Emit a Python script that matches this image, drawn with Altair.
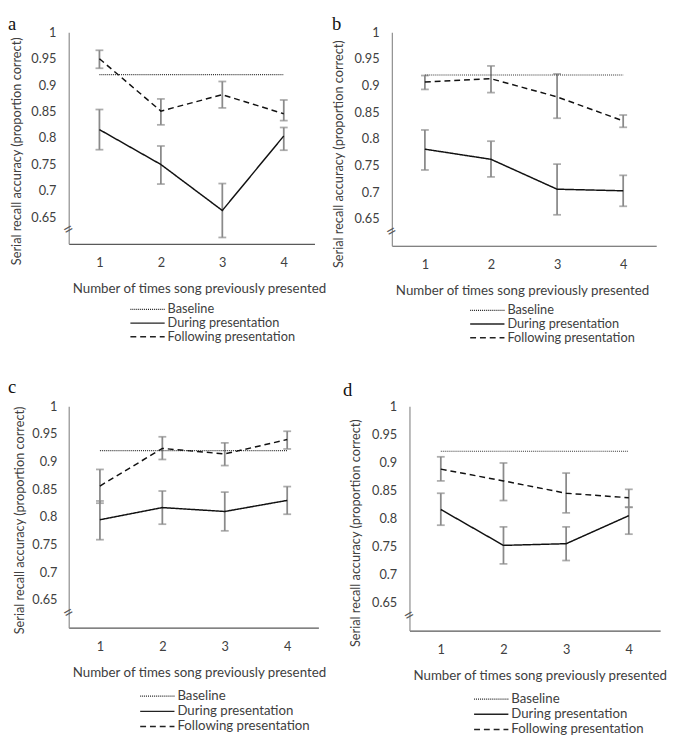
import altair as alt
import pandas as pd

times = [1, 2, 3, 4]
series_names = ["Baseline", "During presentation", "Following presentation"]

# Panel a
a_baseline = 0.92
a_during = [0.816, 0.750, 0.663, 0.804]
a_during_lo = [0.778, 0.713, 0.612, 0.777]
a_during_hi = [0.854, 0.785, 0.714, 0.820]
a_following = [0.950, 0.851, 0.882, 0.846]
a_following_lo = [0.932, 0.825, 0.857, 0.833]
a_following_hi = [0.966, 0.874, 0.907, 0.872]

# Panel b
b_baseline = 0.92
b_during = [0.781, 0.762, 0.706, 0.703]
b_during_lo = [0.742, 0.729, 0.658, 0.674]
b_during_hi = [0.817, 0.796, 0.753, 0.732]
b_following = [0.907, 0.913, 0.879, 0.834]
b_following_lo = [0.893, 0.887, 0.839, 0.822]
b_following_hi = [0.919, 0.937, 0.922, 0.845]

# Panel c
c_baseline = 0.92
c_during = [0.795, 0.817, 0.810, 0.830]
c_during_lo = [0.759, 0.787, 0.775, 0.805]
c_during_hi = [0.829, 0.847, 0.845, 0.855]
c_following = [0.856, 0.924, 0.914, 0.940]
c_following_lo = [0.825, 0.904, 0.893, 0.923]
c_following_hi = [0.886, 0.945, 0.934, 0.955]

# Panel d
d_baseline = 0.92
d_during = [0.816, 0.752, 0.755, 0.805]
d_during_lo = [0.788, 0.719, 0.725, 0.772]
d_during_hi = [0.845, 0.785, 0.785, 0.820]
d_following = [0.888, 0.867, 0.845, 0.837]
d_following_lo = [0.867, 0.832, 0.810, 0.820]
d_following_hi = [0.910, 0.899, 0.881, 0.852]

y_ticks = [0.65, 0.7, 0.75, 0.8, 0.85, 0.9, 0.95, 1.0]
break_at = 0.626

FONT = "Lato"
TXT = "#404040"
DASHES = [[1, 1], [1, 0], [6, 4]]


def panel(letter, baseline, during, during_lo, during_hi, following,
          following_lo, following_hi, w, h, legend_x, legend_y0, legend_dy,
          legend_fs, title_y, title_pad, label_pad, letter_x, letter_y):
    base_df = pd.DataFrame({
        "times": [times[0], times[-1]],
        "series": ["Baseline", "Baseline"],
        "value": [baseline, baseline],
    })
    line_df = pd.DataFrame({
        "times": times + times,
        "series": ["During presentation"] * 4 + ["Following presentation"] * 4,
        "value": during + following,
        "lo": during_lo + following_lo,
        "hi": during_hi + following_hi,
    })

    x_enc = alt.X(
        "times:O",
        scale=alt.Scale(type="point", padding=0.5),
        axis=alt.Axis(
            title="Number of times song previously presented",
            labelAngle=0, ticks=False, tickSize=0, labelPadding=13,
            grid=False, domainColor="#595959", domainWidth=1.2,
            labelFont=FONT, labelFontSize=13, labelColor=TXT,
            titleFont=FONT, titleFontSize=13.6, titleFontWeight="normal",
            titleColor=TXT, titlePadding=13, titleX=133,
        ),
    )
    y_scale = alt.Scale(domain=[0.6, 1.0], nice=False, zero=False)
    y_axis = alt.Axis(
        title="Serial recall accuracy (proportion correct)",
        values=y_ticks, format="~g", ticks=False, tickSize=0, grid=False,
        labelOverlap=False, labelFlush=False, labelSeparation=0,
        labelPadding=label_pad, domainColor="#8c8c8c", domainWidth=1.2,
        labelFont=FONT, labelFontSize=13, labelColor=TXT,
        titleFont=FONT, titleFontSize=13, titleFontWeight="normal",
        titleColor=TXT, titlePadding=title_pad, titleY=title_y,
    )
    dash_scale = alt.Scale(domain=series_names, range=DASHES)
    dash = alt.StrokeDash("series:N", scale=dash_scale, legend=None)

    base = alt.Chart(line_df)
    err = base.mark_rule(color="#8a8a8a", strokeWidth=1.8).encode(
        x=x_enc, y=alt.Y("lo:Q", scale=y_scale, axis=y_axis), y2="hi:Q")
    caps = base.transform_fold(["lo", "hi"], as_=["k", "cap"]).mark_tick(
        color="#8a8a8a", thickness=1.8, size=8).encode(
        x=x_enc, y=alt.Y("cap:Q", scale=y_scale, axis=y_axis))
    lines = base.mark_line(color="#111111", strokeWidth=1.5).encode(
        x=x_enc, y=alt.Y("value:Q", scale=y_scale, axis=y_axis),
        strokeDash=dash)
    base_line = alt.Chart(base_df).mark_line(
        color="#333333", strokeWidth=1.1).encode(
        x=x_enc, y=alt.Y("value:Q", scale=y_scale, axis=y_axis),
        strokeDash=dash)
    brk = alt.Chart(pd.DataFrame({"t": ["="], "value": [break_at]})).mark_text(
        font=FONT, fontSize=18, angle=330, color="#595959").encode(
        text="t:N", x=alt.value(0),
        y=alt.Y("value:Q", scale=y_scale, axis=y_axis))
    lab = alt.Chart(pd.DataFrame({"t": [letter]})).mark_text(
        font="Liberation Serif", fontSize=19, color="#111111", align="left",
        baseline="alphabetic").encode(
        text="t:N", x=alt.value(letter_x), y=alt.value(letter_y))

    layers = [err, caps, base_line, lines, brk, lab]
    # legend drawn below the plot, one row per series
    for i, name in enumerate(series_names):
        row_y = h + legend_y0 + i * legend_dy
        ldf = pd.DataFrame({"series": [name]})
        sym = alt.Chart(ldf).mark_rule(
            color="#222222", strokeWidth=1.2 if i == 0 else 1.5).encode(
            x=alt.value(legend_x), x2=alt.value(legend_x + 35),
            y=alt.value(row_y), strokeDash=dash)
        txt = alt.Chart(ldf).mark_text(
            font=FONT, fontSize=legend_fs, color=TXT, align="left",
            baseline="middle").encode(
            text="series:N", x=alt.value(legend_x + 38), y=alt.value(row_y))
        layers += [sym, txt]

    return alt.layer(*layers).properties(width=w, height=h)


pa = panel("a", a_baseline, a_during, a_during_lo, a_during_hi, a_following,
           a_following_lo, a_following_hi, 251, 216, 63, 67, 14, 13,
           121, 8, 13, -62, -2)
pb = panel("b", b_baseline, b_during, b_during_lo, b_during_hi, b_following,
           b_following_lo, b_following_hi, 270, 218, 80, 66, 14, 13,
           124, 9, 13, -61, -2)
pc = panel("c", c_baseline, c_during, c_during_lo, c_during_hi, c_following,
           c_following_lo, c_following_hi, 255, 226, 73, 70, 15.5, 13.5,
           116, 5, 12, -62, -14)
pd_ = panel("d", d_baseline, d_during, d_during_lo, d_during_hi, d_following,
            d_following_lo, d_following_hi, 256, 229, 66, 70, 15.5, 13.5,
            129, 9, 13, -68, -11)

top = alt.hconcat(pa, pb, spacing=6)
bottom = alt.hconcat(pc, pd_, spacing=17)

chart = alt.vconcat(top, bottom, spacing=34).properties(
    padding=0, background="white").configure_view(
    stroke=None).configure_axis(grid=False, labelOverlap=False)

chart.save("out.html", embed_options={"renderer": "svg", "actions": False})
